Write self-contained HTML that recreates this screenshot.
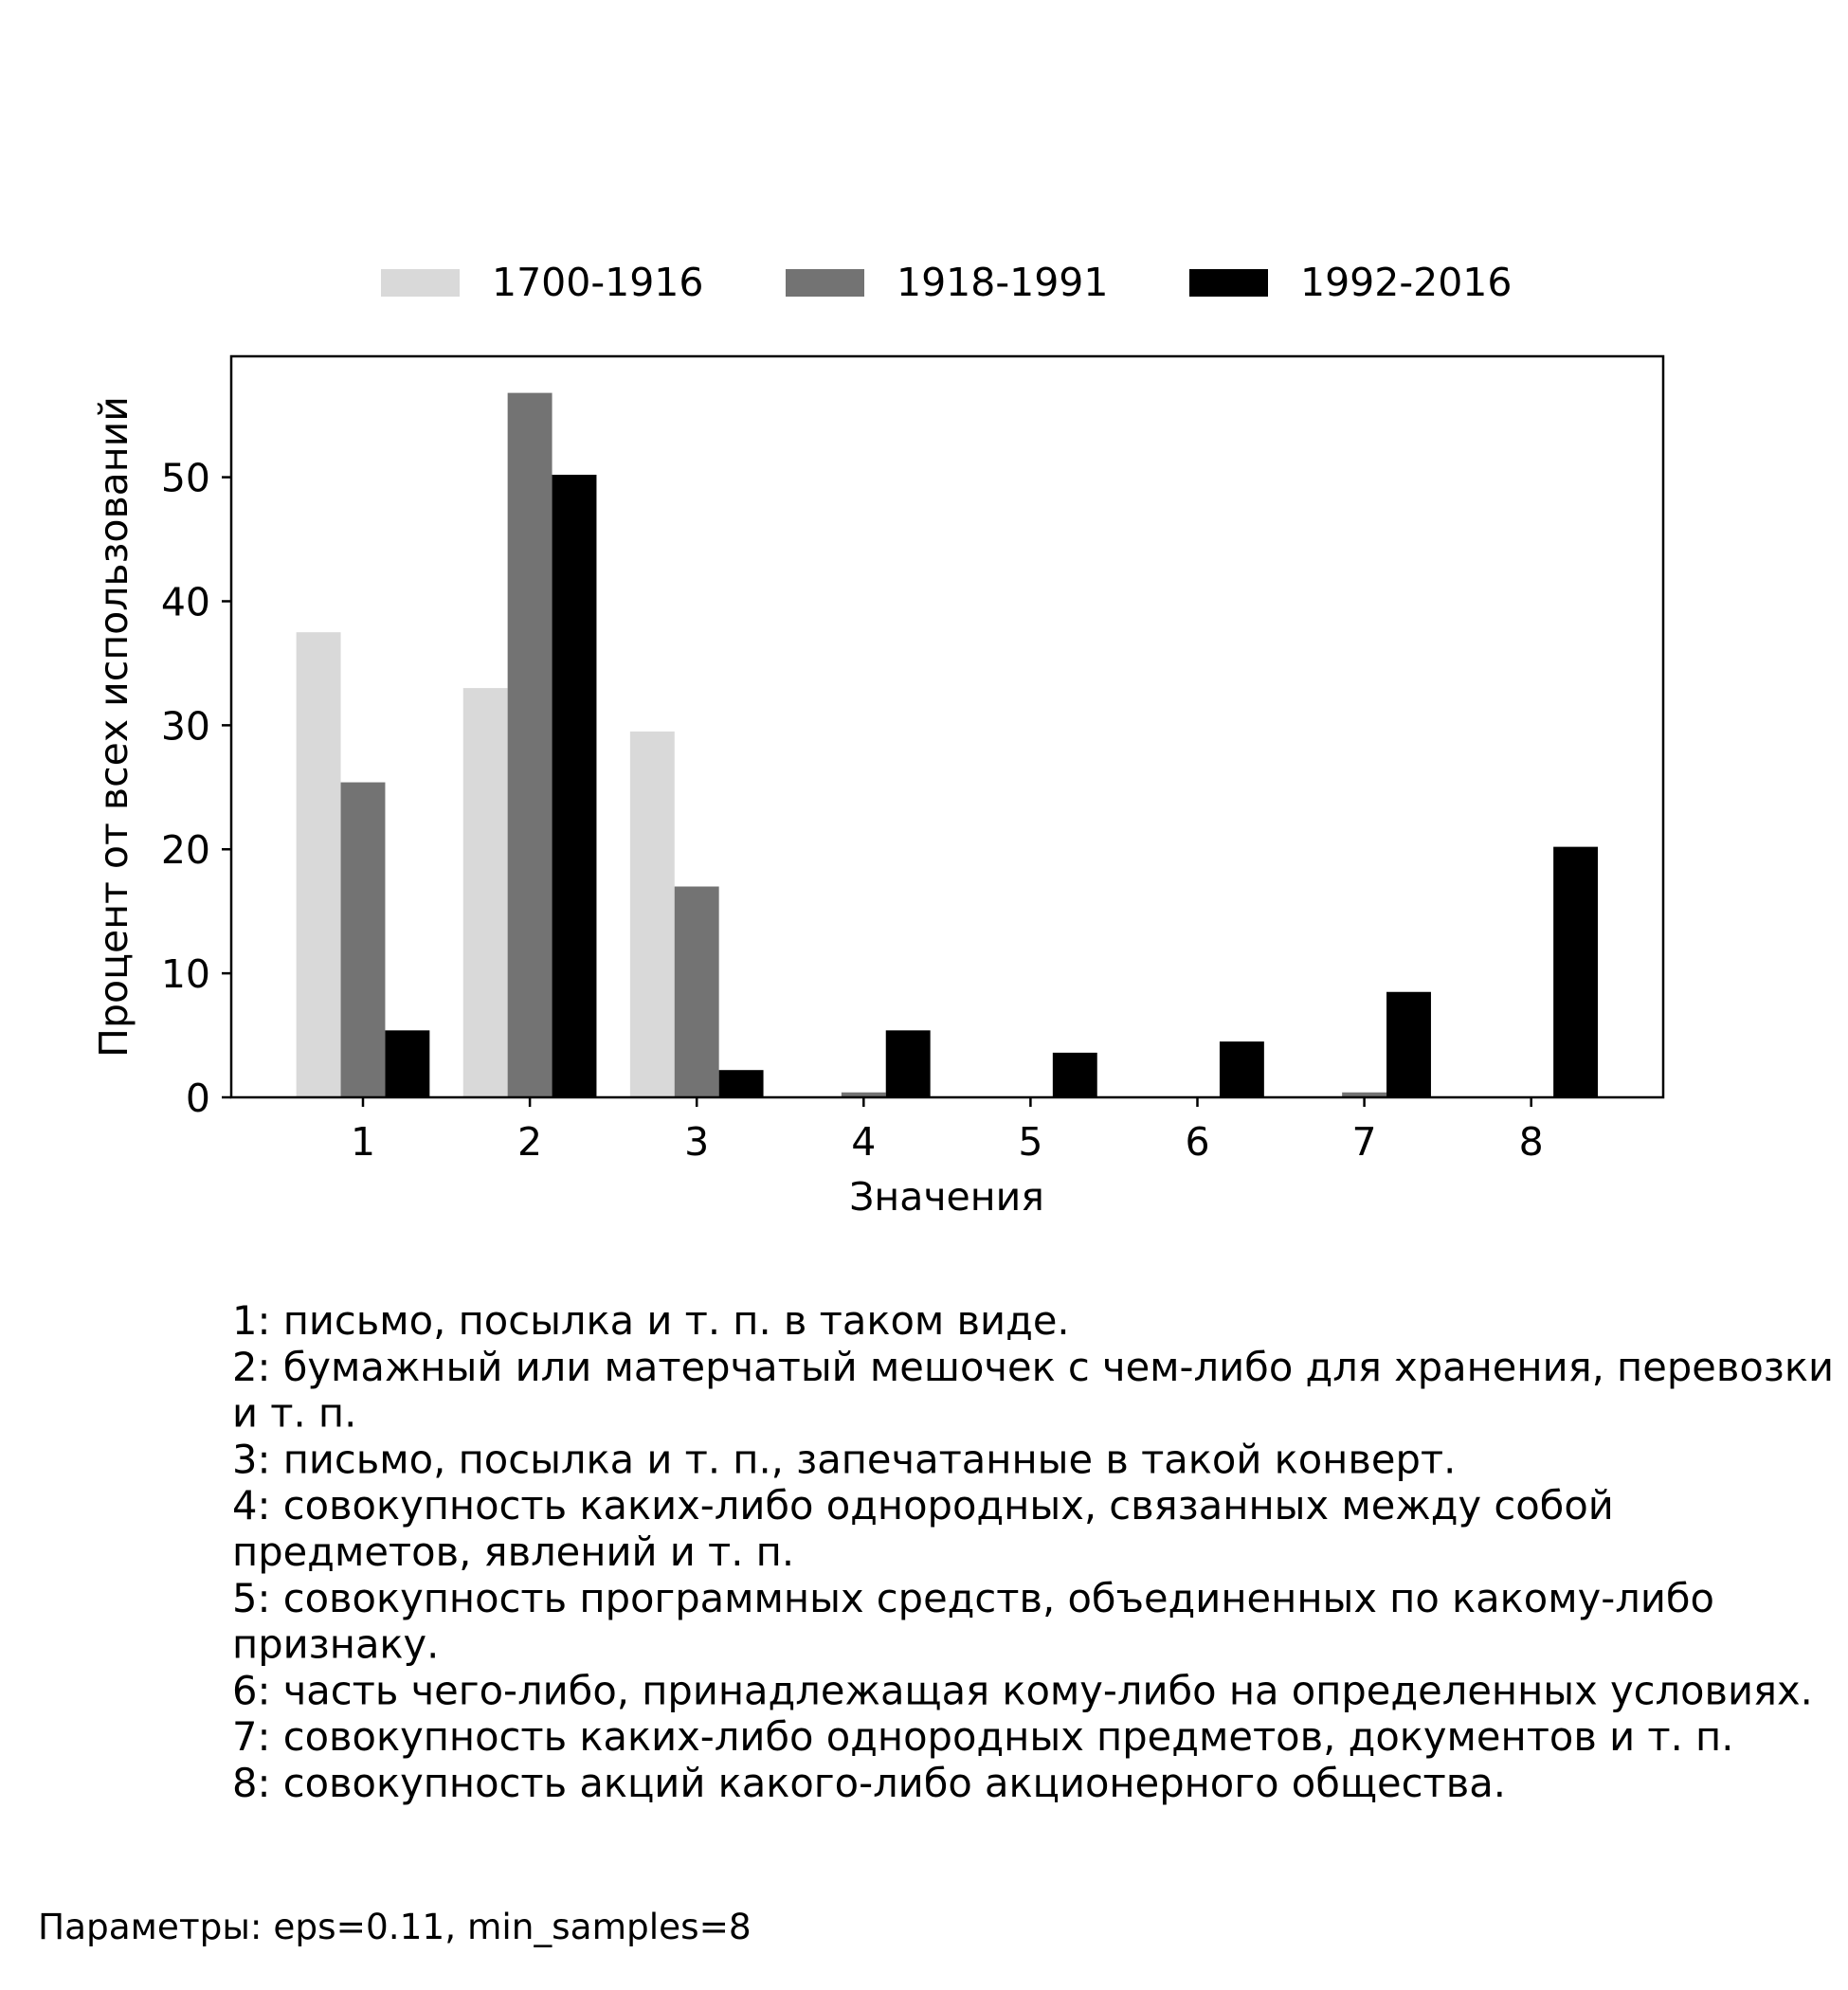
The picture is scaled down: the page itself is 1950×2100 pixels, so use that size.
<!DOCTYPE html>
<html><head><meta charset="utf-8"><style>
body{margin:0;background:#fff;width:1950px;height:2100px;overflow:hidden;font-family:"DejaVu Sans","Liberation Sans",sans-serif;}
svg{position:absolute;left:0;top:0}
text{font-family:"DejaVu Sans","Liberation Sans",sans-serif;fill:#000}
</style></head><body>
<svg id="chart" width="1950" height="2100"></svg>
<script>
const categories=["1","2","3","4","5","6","7","8"];
const series1=[37.5,33,29.5,0,0,0,0,0];
const series2=[25.4,56.8,17,0.4,0,0,0.4,0];
const series3=[5.4,50.2,2.2,5.4,3.6,4.5,8.5,20.2];
const seriesNames=["1700-1916","1918-1991","1992-2016"];
const yTicks=[0,10,20,30,40,50];
const notes=["1: письмо, посылка и т. п. в таком виде.","2: бумажный или матерчатый мешочек с чем-либо для хранения, перевозки","и т. п.","3: письмо, посылка и т. п., запечатанные в такой конверт.","4: совокупность каких-либо однородных, связанных между собой","предметов, явлений и т. п.","5: совокупность программных средств, объединенных по какому-либо","признаку.","6: часть чего-либо, принадлежащая кому-либо на определенных условиях.","7: совокупность каких-либо однородных предметов, документов и т. п.","8: совокупность акций какого-либо акционерного общества."];
const colors=["#d9d9d9","#737373","#000000"];
const NS="http://www.w3.org/2000/svg";
const svg=document.getElementById('chart');
const L=244,R=1755,T=376,B=1158,YMAX=59.75;
const y=v=>B-(B-T)*v/YMAX;
const x=i=>383+176.1*i;
const bw=46.9;
function mk(tag,attrs,txt){const e=document.createElementNS(NS,tag);for(const k in attrs)e.setAttribute(k,attrs[k]);if(txt!==undefined)e.textContent=txt;svg.appendChild(e);return e;}
[series1,series2,series3].forEach((s,si)=>{s.forEach((v,i)=>{
 const r=mk('rect',{x:x(i)+(si-1.5)*bw,y:y(v),width:bw,height:B-y(v),fill:colors[si]});
 
 
});});
const frame=mk('rect',{x:L,y:T,width:R-L,height:B-T,fill:'none',stroke:'#000','stroke-width':2.5});


yTicks.forEach(t=>{
 mk('line',{x1:L-10,x2:L,y1:y(t),y2:y(t),stroke:'#000','stroke-width':2.5});
 const e=mk('text',{x:L-22,y:y(t)+15,'text-anchor':'end','font-size':41},String(t));
 
 
});
categories.forEach((c,i)=>{
 mk('line',{x1:x(i),x2:x(i),y1:B,y2:B+10,stroke:'#000','stroke-width':2.5});
 const e=mk('text',{x:x(i),y:B+61,'text-anchor':'middle','font-size':41},c);
 
 
});
let e=mk('text',{x:999,y:1277,'text-anchor':'middle','font-size':41},'Значения');


e=mk('text',{x:0,y:0,'text-anchor':'middle','font-size':41,transform:'translate(134,767) rotate(-90)'},'Процент от всех использований');


const lx=[402,829,1255];
seriesNames.forEach((n,i)=>{
 const r=mk('rect',{x:lx[i],y:284,width:83,height:29,fill:colors[i]});
 
 
 const t=mk('text',{x:lx[i]+117,y:312,'font-size':41},n);
 
 
});
notes.forEach((n,i)=>{
 const t=mk('text',{x:245,y:1408+48.8*i,'font-size':41.6},n);
 
 
});
e=mk('text',{x:40,y:2046,'font-size':37.4},'Параметры: eps=0.11, min_samples=8');


</script>
</body></html>
